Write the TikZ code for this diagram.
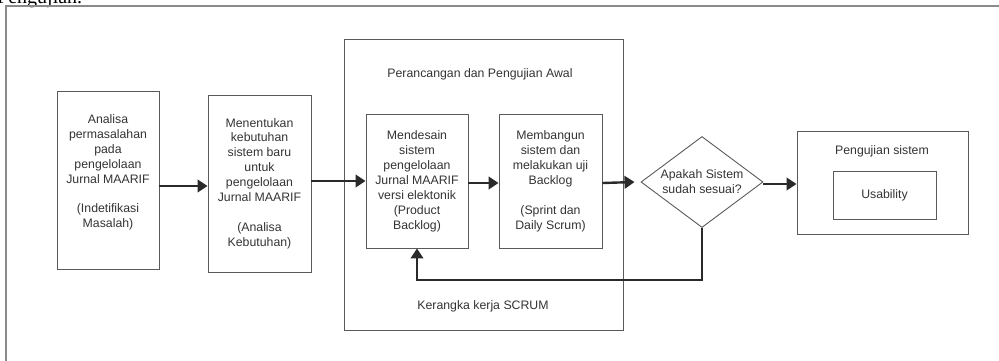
\documentclass[tikz,border=0pt]{standalone}
\usepackage{fontspec}
\setmainfont{Liberation Sans}
\newfontfamily\seriffont{Liberation Serif}
\usetikzlibrary{arrows.meta,shapes.geometric,calc}
\definecolor{txtc}{HTML}{333333}
\definecolor{boxc}{HTML}{5A5A5A}
\definecolor{arrc}{HTML}{2A2A2A}
\definecolor{framec}{HTML}{8A8A8A}
\tikzset{
  box/.style={draw=boxc, line width=0.9pt, inner sep=0pt, rectangle},
  txt/.style={align=center, inner sep=0pt, text=txtc, font=\fontsize{12.3}{14.9}\selectfont},
  arr/.style={draw=arrc, line width=2.4pt, -{Triangle[length=10pt,width=12.5pt]}},
  frame/.style={draw=framec, line width=1.6pt}
}
\begin{document}
\begin{tikzpicture}[x=1pt,y=-1pt]
\useasboundingbox (0,0) rectangle (999,360);
\clip (0,0) rectangle (999,360);
% clipped heading
\node[anchor=base west, inner sep=0pt, text=black, font=\seriffont\fontsize{20}{20}\selectfont] (head) at (-3,3) {Pengujian.};
% outer frame (only top and left visible)
\coordinate (fA) at (6,1000);
\coordinate (fB) at (6,6);
\coordinate (fC) at (1100,6);
\draw[frame] (fA) -- (fB) -- (fC);

% boxes
\node[box, minimum width=102pt, minimum height=178pt] (b1) at (108,180) {};
\node[txt] (t1) at (108,172.5) {Analisa\\permasalahan\\pada\\pengelolaan\\Jurnal MAARIF\\[14.9pt](Indetifikasi\\Masalah)};

\node[box, minimum width=103pt, minimum height=177pt] (b2) at (259.5,183.5) {};
\node[txt] (t2) at (259.5,183.5) {Menentukan\\kebutuhan\\sistem baru\\untuk\\pengelolaan\\Jurnal MAARIF\\[14.9pt](Analisa\\Kebutuhan)};

\node[box, minimum width=279pt, minimum height=291pt] (big) at (483.5,184.5) {};
\node[txt] (tbig) at (480,74) {Perancangan dan Pengujian Awal};
\node[txt] (tscrum) at (483,306) {Kerangka kerja SCRUM};

\node[box, minimum width=102pt, minimum height=134pt] (b3) at (417,181) {};
\node[txt] (t3) at (417,181.5) {Mendesain\\sistem\\pengelolaan\\Jurnal MAARIF\\versi elektonik\\(Product\\Backlog)};

\node[box, minimum width=103pt, minimum height=134pt] (b4) at (550.5,181) {};
\node[txt] (t4) at (550.5,181.5) {Membangun\\sistem dan\\melakukan uji\\Backlog\\[14.9pt](Sprint dan\\Daily Scrum)};

\node[diamond, draw=boxc, line width=0.9pt, inner sep=0pt, minimum width=122pt, minimum height=91pt, shape aspect=1.34] (d) at (702,182) {};
\node[txt] (td) at (702,182) {Apakah Sistem\\sudah sesuai?};

\node[box, minimum width=171pt, minimum height=103pt] (b5) at (882.5,182.5) {};
\node[txt] (t5) at (882,151) {Pengujian sistem};
\node[box, minimum width=103pt, minimum height=48pt] (b6) at (884.5,195) {};
\node[txt] (t6) at (b6) {Usability};

% connectors
\draw[arr] ([yshift=-6pt]b1.east) -- ([yshift=-2.5pt]b2.west);
\draw[arr] ([yshift=2.5pt]b2.east) -- (b3.west);
\draw[arr] ([yshift=-2pt]b3.east) -- ([yshift=-2pt]b4.west);
\draw[arr] ([yshift=-2pt]b4.east) -- ([xshift=-6pt]d.west);
\draw[arr] ([yshift=-2pt]d.east) -- ([yshift=-1.5pt]b5.west);
\coordinate (fb) at (702,280);
\draw[arr] (d.south) -- (fb) -| (b3.south);
\end{tikzpicture}
\end{document}
